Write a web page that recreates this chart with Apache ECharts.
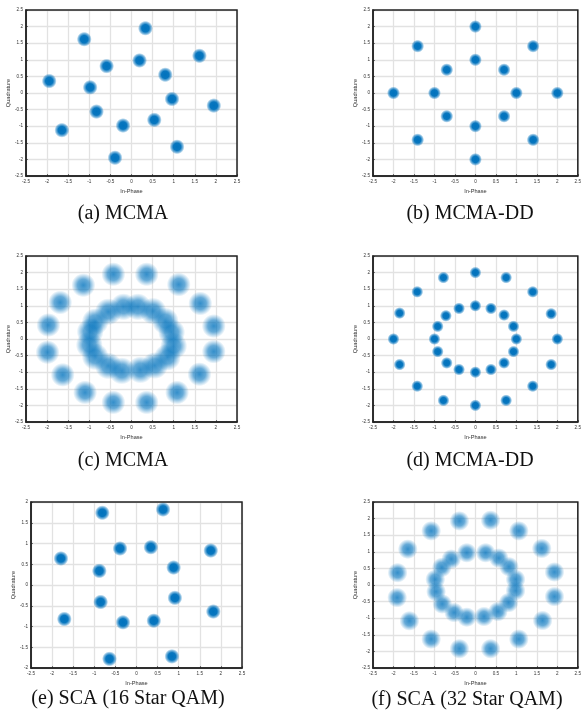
<!DOCTYPE html>
<html><head><meta charset="utf-8">
<script src="https://cdn.jsdelivr.net/npm/echarts@6/dist/echarts.min.js"></script>
<style>html,body{margin:0;padding:0;background:#fff}#c{width:584px;height:718px}</style>
</head><body><div id="c"></div>
<script>
// ---- tick labels ----
const ticksFull = [-2.5,-2,-1.5,-1,-0.5,0,0.5,1,1.5,2,2.5];
const ticksE = [-2,-1.5,-1,-0.5,0,0.5,1,1.5,2];
const xName = 'In-Phase';
const yName = 'Quadrature';
const captions = ['(a) MCMA','(b) MCMA-DD','(c) MCMA','(d) MCMA-DD','(e) SCA (16 Star QAM)','(f) SCA (32 Star QAM)'];

// ---- cluster centres [I, Q] ----
const aMCMA16 = [[0.33,1.95],[-1.12,1.62],[1.61,1.12],[0.19,0.98],[-0.59,0.81],[0.8,0.55],[-1.95,0.36],[-0.98,0.17],
  [0.96,-0.18],[1.95,-0.38],[-0.83,-0.56],[0.54,-0.81],[-0.2,-0.98],[-1.65,-1.12],[1.08,-1.62],[-0.39,-1.95]];
const bMCMADD16 = [[0,2],[-1.41,1.41],[1.41,1.41],[0,1],[-0.7,0.7],[0.7,0.7],[-2,0],[-1,0],[1,0],[2,0],
  [-0.7,-0.7],[0.7,-0.7],[0,-1],[-1.41,-1.41],[1.41,-1.41],[0,-2]];
const cMCMA32outer = [[-0.43,1.95],[0.36,1.95],[-1.14,1.62],[1.12,1.64],[-1.69,1.1],[1.63,1.07],[-1.97,0.42],[1.95,0.39],
  [-1.99,-0.4],[1.95,-0.38],[-1.63,-1.08],[1.61,-1.06],[-1.1,-1.61],[1.08,-1.61],[-0.43,-1.91],[0.36,-1.91]];
const cMCMA32inner = [[-0.55,0.82],[-0.19,0.97],[0.15,0.97],[0.51,0.84],[0.8,0.54],[0.95,0.2],[1.0,-0.21],[0.85,-0.55],
  [0.55,-0.8],[0.21,-0.93],[-0.23,-0.96],[-0.55,-0.81],[-0.86,-0.53],[-1.0,-0.18],[-0.98,0.22],[-0.86,0.52]];
const dMCMADD32outer = [[0,2],[0.75,1.85],[-0.78,1.85],[-1.42,1.42],[1.4,1.42],[-1.85,0.78],[1.85,0.76],[-2,0],[2,0],
  [-1.85,-0.77],[1.85,-0.77],[-1.42,-1.42],[1.4,-1.42],[-0.78,-1.85],[0.75,-1.85],[0,-2]];
const dMCMADD32inner = [[0,1],[0.38,0.92],[-0.4,0.92],[-0.72,0.7],[0.7,0.72],[-0.92,0.38],[0.93,0.38],[-1,0],[1,0],
  [-0.92,-0.38],[0.93,-0.38],[-0.7,-0.72],[0.7,-0.72],[-0.4,-0.92],[0.38,-0.92],[0,-1]];
const eSCA16 = [[-0.81,1.74],[0.63,1.82],[-0.39,0.88],[0.34,0.91],[1.76,0.83],[-1.79,0.64],[0.88,0.42],[-0.88,0.34],
  [0.91,-0.31],[-0.85,-0.41],[1.82,-0.64],[-1.71,-0.82],[-0.32,-0.9],[0.41,-0.86],[-0.64,-1.78],[0.84,-1.72]];
const fSCA32outer = [[-0.39,1.93],[0.37,1.95],[-1.08,1.63],[1.06,1.63],[-1.65,1.08],[1.62,1.1],[-1.9,0.37],[1.93,0.39],
  [-1.91,-0.38],[1.93,-0.35],[-1.61,-1.08],[1.64,-1.07],[-1.08,-1.63],[1.06,-1.63],[-0.39,-1.92],[0.37,-1.92]];
const fSCA32inner = [[-0.21,0.97],[0.25,0.97],[-0.59,0.78],[0.57,0.81],[-0.82,0.53],[0.82,0.55],[-0.98,0.17],[0.98,0.17],
  [-0.96,-0.2],[0.98,-0.17],[-0.81,-0.57],[0.81,-0.53],[-0.52,-0.83],[0.55,-0.8],[-0.21,-0.97],[0.21,-0.95]];

// ---- styles ----
function blob(a0, a1, a2){
  return {type:'radial', x:0.5, y:0.5, r:0.5, colorStops:[
    {offset:0, color:'rgba(0,114,189,'+a0+')'},
    {offset:0.5, color:'rgba(0,114,189,'+a1+')'},
    {offset:0.78, color:'rgba(0,114,189,'+a2+')'},
    {offset:1, color:'rgba(0,114,189,0)'}]};
}
const dense = blob(1, 0.97, 0.5);
const sparse = blob(0.8, 0.6, 0.25);

const panels = [
  {grid:{left:26,top:10,width:211,height:166}, yt:ticksFull, cap:[123,214], sets:[[aMCMA16,15,dense]]},
  {grid:{left:373,top:10,width:211,height:166}, yt:ticksFull, cap:[470,214], sets:[[bMCMADD16,13,dense]]},
  {grid:{left:26,top:256,width:211,height:166}, yt:ticksFull, cap:[123,461], sets:[[cMCMA32outer,24,sparse],[cMCMA32inner,27,sparse]]},
  {grid:{left:373,top:256,width:211,height:166}, yt:ticksFull, cap:[470,461], sets:[[dMCMADD32outer,12,dense],[dMCMADD32inner,12,dense]]},
  {grid:{left:31,top:502,width:211,height:166}, yt:ticksE, cap:[128,699], sets:[[eSCA16,15,dense]]},
  {grid:{left:373,top:502,width:211,height:166}, yt:ticksFull, cap:[467,700], sets:[[fSCA32outer,20,sparse],[fSCA32inner,20,sparse]]}
];

const labelStyle = {fontSize:4.6, color:'#333', fontFamily:'Liberation Sans'};
const nameStyle = {fontSize:5.6, color:'#333', fontFamily:'Liberation Sans'};
const option = {animation:false, backgroundColor:'#fff', grid:[], xAxis:[], yAxis:[], series:[], graphic:[]};

panels.forEach((p, i) => {
  option.grid.push(Object.assign({show:true, borderColor:'#222', borderWidth:1.5, backgroundColor:'transparent', z:3}, p.grid));
  const common = {
    interval:0.5,
    axisLine:{show:true, onZero:false, lineStyle:{color:'#222', width:1.5}},
    axisTick:{show:true, inside:true, length:2, lineStyle:{color:'#262626', width:0.6}},
    splitLine:{show:true, lineStyle:{color:'#e2e2e2', width:1.3}},
    axisLabel:Object.assign({margin:3, showMinLabel:true, showMaxLabel:true}, labelStyle),
    nameTextStyle:nameStyle, nameLocation:'middle'
  };
  option.xAxis.push(Object.assign({}, common, {gridIndex:i, type:'value', min:ticksFull[0], max:ticksFull[ticksFull.length-1], name:xName, nameGap:12}));
  option.yAxis.push(Object.assign({}, common, {gridIndex:i, type:'value', min:p.yt[0], max:p.yt[p.yt.length-1], name:yName, nameGap:14}));
  p.sets.forEach(s => {
    option.series.push({type:'scatter', xAxisIndex:i, yAxisIndex:i, data:s[0], symbolSize:s[1],
      itemStyle:{color:s[2], opacity:1}, emphasis:{disabled:true}, silent:true});
  });
  option.graphic.push({type:'text', x:p.cap[0], y:p.cap[1],
    style:{text:captions[i], fill:'#111', font:'20px "Liberation Serif"', textAlign:'center', textVerticalAlign:'middle'}});
});

const chart = echarts.init(document.getElementById('c'), null, {renderer:'canvas'});
chart.setOption(option);
</script></body></html>
